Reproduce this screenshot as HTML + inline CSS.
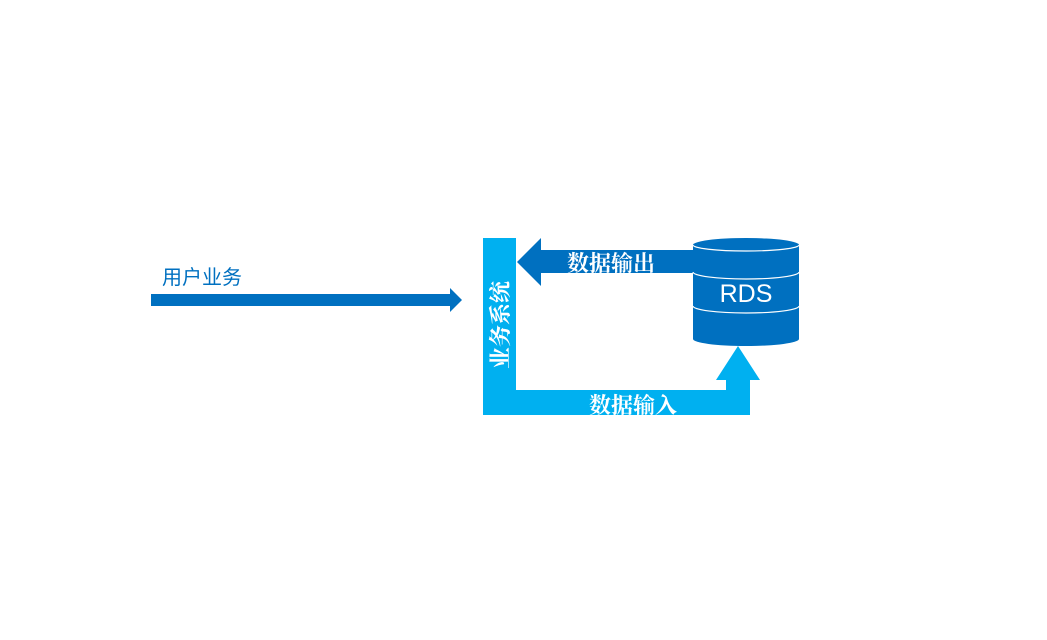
<!DOCTYPE html>
<html><head><meta charset="utf-8"><style>
body{margin:0;background:#fff;width:1047px;height:635px;overflow:hidden}
</style></head><body>
<svg width="1047" height="635" xmlns="http://www.w3.org/2000/svg">
<text x="162" y="284" font-family="Liberation Sans, Noto Sans CJK SC, sans-serif" font-size="20" fill="#0070c0">用户业务</text>
<polygon points="151,294 450,294 450,288 462,300 450,312 450,306 151,306" fill="#0070c0"/>
<polygon points="483,238 516,238 516,390 726,390 726,380 716,380 738,346 760,380 750,380 750,415 483,415" fill="#00b0f0"/>
<text transform="translate(508,325) rotate(-90)" text-anchor="middle" font-family="Liberation Serif, Noto Serif CJK SC, serif" font-weight="bold" font-size="22" fill="#fff">业务系统</text>
<text x="633" y="413" text-anchor="middle" font-family="Liberation Serif, Noto Serif CJK SC, serif" font-weight="bold" font-size="22" fill="#fff">数据输入</text>
<polygon points="517,262 541,238 541,250 695,250 695,273 541,273 541,286" fill="#0070c0"/>
<text x="611" y="271" text-anchor="middle" font-family="Liberation Serif, Noto Serif CJK SC, serif" font-weight="bold" font-size="22" fill="#fff">数据输出</text>
<path d="M693,245 L693,339 A53,7 0 0 0 799,339 L799,245 A53,7 0 0 0 693,245 Z" fill="#0070c0"/>
<path d="M693,245 A53,6 0 0 0 799,245" fill="none" stroke="#fff" stroke-width="1.2"/>
<path d="M693,272 A53,7 0 0 0 799,272" fill="none" stroke="#fff" stroke-width="1.2"/>
<path d="M693,306 A53,7 0 0 0 799,306" fill="none" stroke="#fff" stroke-width="1.2"/>
<text x="746" y="302" text-anchor="middle" font-family="Liberation Sans, sans-serif" font-size="25" fill="#fff">RDS</text>
</svg>
</body></html>
